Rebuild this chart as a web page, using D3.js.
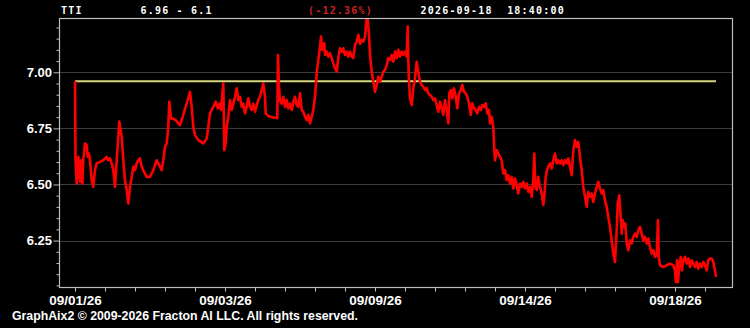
<!DOCTYPE html>
<html><head><meta charset="utf-8">
<script src="https://cdn.jsdelivr.net/npm/d3@7"></script>
<style>html,body{margin:0;padding:0;background:#000;overflow:hidden}svg{display:block}</style>
</head><body>
<svg id="c" width="750" height="328"></svg>
<script>
// ---------- data ----------
const symbol = "TTI";
const rangeText = "6.96 - 6.1";
const changeText = "(-12.36%)";
const stampText = "2026-09-18  18:40:00";
const footerText = "GraphAix2 \u00A9 2009-2026 Fracton AI LLC. All rights reserved.";
const refLevel = 6.96;
const yMajorTicks = [6.25, 6.50, 6.75, 7.00];
const xLabelBars = [0, 150, 300, 450, 600];
const xLabels = ["09/01/26", "09/03/26", "09/09/26", "09/14/26", "09/18/26"];

const bars = [
0,0.5,1.7,3.3,5,6,7.3,8.3,10,11.7,12.7,14,15,16.7,18.3,20,21.7,25,28.3,31.7,33.3,35,36.7,38.3,40,41.7,44.3,46.7,48.3,50,
51.7,53.3,55,56.7,58.3,60,61.7,63.3,65,66.7,68.3,70,71.7,75,78.3,81.7,85,86.7,88.3,90,91.7,93.3,94.3,96,100,105,108.3,111.7,115,116.7,118.3,
120,123.3,128.3,131.7,133.3,135,138.3,140.7,142.7,144.3,146,147.7,148.3,149.3,150.7,151.7,153.3,155,156.7,158.3,160,161.7,163.3,165,166.7,168.3,170,171.7,173.3,175,
176.7,178.3,180,181.7,183.3,185,186.7,188.3,190,190.7,193.3,198.3,202.3,203,204,205,206.7,208.3,210,211.7,213.3,215,216.7,218.3,220,221.7,223.3,225,226.7,228.3,
230,231.7,233.3,235,236.7,238.3,240,241.7,243.3,245,246,247.3,249.3,
250,251.7,253.3,255,256.7,258.3,260,261.7,263.3,265,266.7,268.3,270,271.7,273.3,275,276.7,278.3,280,281.7,283.3,285,286.7,288.3,290,291.7,292.7,294,295,296.7,
298.3,300,301.7,303.3,305,306.7,308.3,310,311.7,313.3,315,316.7,318.3,320,321.7,323.3,325,326.7,328.3,330,331.7,332.7,333.7,335,336.7,338.3,340,341.7,343.3,345,
346.7,348.3,350,351.7,353.3,355,356.7,358.3,360,361.7,363.3,365,366.7,368.3,
370,371.7,373.3,374.3,376,377.3,379,380.7,382.3,384,385.7,387.3,389,390.7,392.3,394,395.7,397.3,399,400.7,402.3,404,405.7,407.3,409,410.7,412.3,414,415,416.7,
418.3,419.3,420,421.7,423.3,425,426.7,428.3,430,431.7,433.3,435,436.7,438.3,440,441.7,443.3,445,446.7,448.3,450,451.7,453.3,455,456.7,458.3,459.3,460.3,461.7,463.3,
465,466.7,468.3,469.3,470.7,472,473.3,475,476.7,478.3,480,481.7,483.3,485,486.7,488.3,490,491.7,493.3,495,496.7,498.3,500,501.7,503.3,505,506.7,
508.3,510,511.7,513.3,515,516.7,518.3,520,521.7,523.3,525,526.7,528.3,530,531.7,533.3,535,536.7,538.3,540,541.7,542.7,544.3,545.7,546.7,547.7,549,550.3,551.7,553.3,
555,556.7,558.3,560,561.7,563.3,565,566.7,568.3,570,571.7,573.3,575,576.7,578.3,580,581.7,583,583.7,585,588.3,591.7,595,598.3,600,601,602,603,604.3,605.7,
607,608.3,610,611.7,613.3,615,616.7,618.3,620,621.7,623.3,625,626.7,628.3,630,631.7,633.3,635,636.7,638.3,640,641
];
const prices = [
6.961,6.608,6.504,6.623,6.512,6.608,6.504,6.608,6.683,6.675,6.623,6.638,6.608,6.519,6.489,6.564,6.594,6.601,6.608,6.623,6.608,6.616,6.594,6.564,6.489,6.608,6.780,6.713,6.608,6.519,
6.475,6.415,6.489,6.534,6.579,6.564,6.594,6.608,6.616,6.579,6.564,6.549,6.534,6.534,6.564,6.608,6.579,6.564,6.608,6.668,6.683,6.757,6.869,6.795,6.790,6.765,6.810,6.862,6.913,6.846,6.757,
6.720,6.698,6.683,6.705,6.757,6.817,6.846,6.869,6.839,6.860,6.832,6.921,6.951,6.653,6.683,6.757,6.802,6.876,6.832,6.860,6.891,6.929,6.876,6.891,6.846,6.860,6.817,6.846,6.884,6.846,
6.832,6.860,6.824,6.853,6.876,6.891,6.921,6.951,6.891,6.817,6.805,6.799,6.795,7.077,6.936,6.876,6.860,6.891,6.846,6.876,6.839,6.860,6.832,6.867,6.891,6.853,6.846,6.906,6.832,6.824,
6.802,6.787,6.810,6.772,6.802,6.832,6.891,6.996,7.055,7.114,7.159,7.100,7.130,
7.077,7.092,7.070,7.085,7.063,7.040,7.018,7.003,7.063,7.107,7.092,7.107,7.077,7.092,7.070,7.092,7.070,7.063,7.122,7.137,7.167,7.126,7.144,7.137,7.159,7.241,7.240,7.167,7.077,7.003,
6.958,6.913,6.943,6.980,6.958,6.980,7.003,7.010,7.033,7.063,7.055,7.077,7.047,7.092,7.063,7.100,7.070,7.092,7.077,7.092,7.070,7.204,6.988,6.884,6.854,6.929,6.973,7.047,7.003,6.958,
6.943,6.936,6.921,6.929,6.906,6.899,6.891,6.876,6.884,6.854,6.824,6.869,6.839,6.810,
6.876,6.832,6.772,6.906,6.921,6.884,6.929,6.891,6.839,6.906,6.921,6.943,6.913,6.906,6.891,6.862,6.810,6.862,6.839,6.832,6.817,6.846,6.832,6.854,6.846,6.862,6.817,6.832,6.772,6.802,
6.757,6.653,6.608,6.653,6.638,6.623,6.608,6.549,6.564,6.519,6.541,6.504,6.534,6.482,6.527,6.497,6.460,6.504,6.489,6.512,6.482,6.504,6.467,6.489,6.445,6.519,6.638,6.489,6.475,6.534,
6.489,6.460,6.408,6.445,6.534,6.564,6.579,6.594,6.571,6.608,6.638,6.594,6.608,6.594,6.608,6.586,6.608,6.594,6.616,6.579,6.541,6.653,6.698,6.668,6.690,6.620,6.564,
6.489,6.445,6.400,6.467,6.445,6.460,6.422,6.460,6.489,6.512,6.482,6.460,6.475,6.430,6.400,6.355,6.311,6.251,6.192,6.154,6.296,6.415,6.452,6.355,6.281,6.341,6.311,6.326,6.237,6.207,
6.251,6.237,6.266,6.281,6.266,6.296,6.311,6.281,6.251,6.266,6.237,6.259,6.221,6.192,6.207,6.177,6.185,6.341,6.177,6.140,6.132,6.140,6.147,6.140,6.117,6.065,6.162,6.065,6.147,6.177,
6.117,6.162,6.177,6.147,6.170,6.132,6.162,6.147,6.132,6.155,6.125,6.147,6.132,6.155,6.140,6.117,6.162,6.170,6.170,6.155,6.117,6.088
];

// ---------- chart ----------
const W = 750, H = 328;
const plot = {l: 59, r: 732, t: 18, b: 287};
const series = bars.map((b, i) => ({t: b, v: prices[i]}));
const svg = d3.select("#c");
svg.append("rect").attr("width", W).attr("height", H).attr("fill", "#000");

const x = d3.scaleLinear().domain([-16, 657]).range([plot.l, plot.r]);
const y = d3.scaleLinear().domain([6.043, 7.242]).range([plot.b, plot.t]);

svg.append("defs").append("clipPath").attr("id", "clip")
  .append("rect").attr("x", plot.l).attr("y", plot.t).attr("width", plot.r - plot.l).attr("height", plot.b - plot.t);

// gridlines
svg.append("g").selectAll("line").data(yMajorTicks).join("line")
  .attr("x1", plot.l).attr("x2", plot.r)
  .attr("y1", d => Math.round(y(d)) + 0.5).attr("y2", d => Math.round(y(d)) + 0.5)
  .attr("stroke", "#3c3c3c").attr("stroke-width", 1);

// reference level
svg.append("line")
  .attr("x1", x(bars[0])).attr("x2", x(bars[bars.length - 1]))
  .attr("y1", y(refLevel)).attr("y2", y(refLevel))
  .attr("stroke", "#d4d67c").attr("stroke-width", 2);

// price line
svg.append("path").datum(series)
  .attr("clip-path", "url(#clip)")
  .attr("fill", "none").attr("stroke", "#ff0000").attr("stroke-width", 2.6)
  .attr("stroke-linejoin", "round")
  .attr("d", d3.line().x(d => x(d.t)).y(d => y(d.v)));

// frame
svg.append("rect").attr("x", plot.l + 0.5).attr("y", plot.t + 0.5)
  .attr("width", plot.r - plot.l).attr("height", plot.b - plot.t)
  .attr("fill", "none").attr("stroke", "#bdbdbd").attr("stroke-width", 1.2);

// y axis
const minor = d3.range(6.05, 7.2401, 0.05).filter(v => Math.abs(v / 0.25 - Math.round(v / 0.25)) > 1e-6);
const gyMinor = svg.append("g").attr("transform", `translate(${plot.l + 0.5},0)`)
  .call(d3.axisLeft(y).tickValues(minor).tickSize(3).tickFormat(""));
gyMinor.select(".domain").remove();
const gy = svg.append("g").attr("transform", `translate(${plot.l + 0.5},0)`)
  .call(d3.axisLeft(y).tickValues(yMajorTicks).tickSize(6).tickPadding(1.5).tickFormat(d3.format(".2f")));
gy.select(".domain").remove();
[gy, gyMinor].forEach(g => g.selectAll("line").attr("stroke", "#bdbdbd"));
gy.selectAll("text").attr("fill", "#fff")
  .style("font-family", "'Liberation Sans', Arial, sans-serif").style("font-weight", "bold").style("font-size", "13px");

// x axis
const labelOf = new Map(xLabelBars.map((b, i) => [b, xLabels[i]]));
const gx = svg.append("g").attr("transform", `translate(0,${plot.b + 0.5})`)
  .call(d3.axisBottom(x).tickValues(d3.range(0, 631, 30)).tickSize(4).tickPadding(3.5)
    .tickFormat(d => labelOf.get(d) || ""));
gx.select(".domain").remove();
gx.selectAll("line").attr("stroke", "#bdbdbd");
gx.selectAll("text").attr("fill", "#fff")
  .style("font-family", "'Liberation Sans', Arial, sans-serif").style("font-weight", "bold").style("font-size", "13.5px");

// header
const mono = {"font-family": "'DejaVu Sans Mono', monospace", "font-weight": "bold", "font-size": "10px", "letter-spacing": "1.2px"};
const header = [
  {text: symbol, x: 61, fill: "#fff"},
  {text: rangeText, x: 140.5, fill: "#fff"},
  {text: changeText, x: 308, fill: "#cc2222"},
  {text: stampText, x: 420.5, fill: "#fff"}
];
svg.append("g").selectAll("text").data(header).join("text")
  .attr("x", d => d.x).attr("y", 14)
  .attr("fill", d => d.fill)
  .attr("xml:space", "preserve").style("white-space", "pre")
  .each(function() { const s = d3.select(this); Object.entries(mono).forEach(([k, v]) => s.style(k, v)); })
  .text(d => d.text);

// footer
svg.append("text").attr("x", 12).attr("y", 320)
  .attr("fill", "#fff")
  .style("font-family", "'Liberation Sans Narrow', 'Liberation Sans', Arial, sans-serif")
  .style("font-weight", "bold").style("font-size", "12.5px")
  .attr("textLength", 346).attr("lengthAdjust", "spacingAndGlyphs")
  .text(footerText);
</script>
</body></html>
